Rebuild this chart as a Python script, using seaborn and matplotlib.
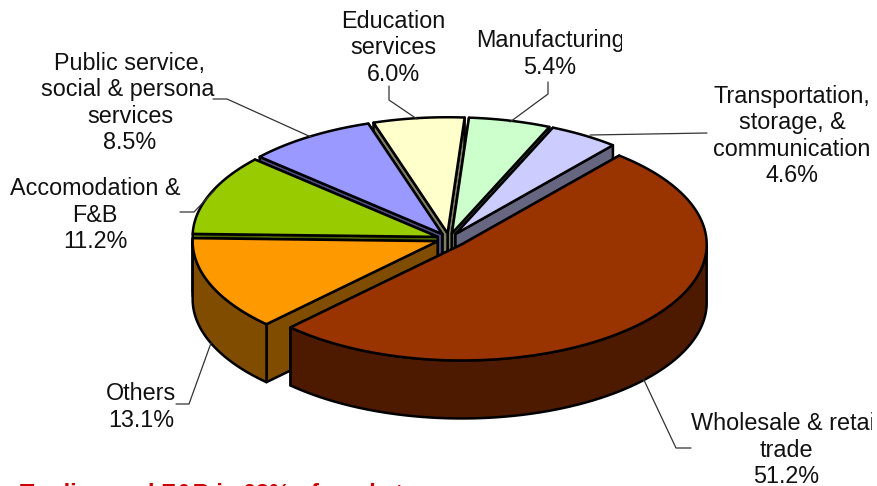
import numpy as np
import matplotlib
matplotlib.use("Agg")
import matplotlib.pyplot as plt
from matplotlib.patches import Rectangle
import seaborn as sns

# Sector shares in percent, clockwise from the top-right edge of the largest slice
sectors = ["Wholesale & retail\ntrade", "Others", "Accomodation &\nF&B",
           "Public service,\nsocial & personal\nservices", "Education\nservices",
           "Manufacturing", "Transportation,\nstorage, &\ncommunication"]
shares = [51.2, 13.1, 11.2, 8.5, 6.0, 5.4, 4.6]
top_colors = ["#993300", "#FF9900", "#99CC00", "#9999FF", "#FFFFCC", "#CCFFCC", "#CCCCFF"]
title_text = "Trading and F&B is 63% of market"

# Label anchor (centre x, centre y) and the right-hand limit of its text box
label_pos = [(786, 450), (141, 407), (95, 215), (130, 103), (393, 48), (550, 54), (792, 136)]
label_clip = [872, 178, 400, 216, 500, 622, 877]
leaders = [
    [(691, 448), (676, 448), (643, 378)],
    [(176, 404), (189, 404), (211, 343)],
    [(180, 212), (194, 212), (215, 190)],
    [(213, 99), (227, 99), (311, 137)],
    [(389, 86), (389, 100), (417, 119)],
    [(548, 82), (548, 94), (510, 122)],
    [(707, 133), (590, 135)],
]

# Pie geometry on a pixel-sized canvas
CX, CY, RX, RY, DEPTH = 449, 239, 245, 116, 58
START = 50.0
EXPLODE = [0.07, 0.05, 0.05, 0.05, 0.05, 0.05, 0.05]
DRAW_ORDER = [4, 5, 6, 3, 2, 1, 0]

sns.set_theme(style="white", rc={"axes.grid": False})
plt.rcParams["font.family"] = ["Liberation Sans", "DejaVu Sans"]
palette = sns.color_palette(top_colors)
side_colors = [tuple(c * 0.5 for c in col) for col in palette]

fig, ax = plt.subplots(figsize=(8.77, 4.86), dpi=100)
fig.subplots_adjust(0, 0, 1, 1)
ax.set_xlim(0, 877)
ax.set_ylim(486, 0)
ax.axis("off")

# Sweep of each slice in degrees, running clockwise
sweeps = np.array(shares) / sum(shares) * 360
ends = START - np.cumsum(sweeps)
starts = ends + sweeps


def arc(t0, t1, ox, oy):
    t = np.radians(np.linspace(t0, t1, 160))
    return ox + RX * np.cos(t), oy - RY * np.sin(t)


def outline(xs, ys, color, z):
    ax.fill(xs, ys, facecolor=color, edgecolor="black", linewidth=1.8,
            joinstyle="round", zorder=z)


for z, i in enumerate(DRAW_ORDER):
    t0, t1 = starts[i], ends[i]
    mid = np.radians((t0 + t1) / 2)
    ox = CX + EXPLODE[i] * RX * np.cos(mid)
    oy = CY - EXPLODE[i] * RY * np.sin(mid)
    ax_, ay_ = arc(t0, t1, ox, oy)

    # Radial walls, the one nearer the viewer painted last
    rim_ends = sorted([(ay_[0], ax_[0]), (ay_[-1], ax_[-1])])
    for ye, xe in rim_ends:
        outline([ox, xe, xe, ox], [oy, ye, ye + DEPTH, oy + DEPTH], side_colors[i], z * 3 + 1)

    # Curved wall, only where the rim faces the viewer
    front = np.sin(np.radians(np.linspace(t0, t1, 160))) < 0
    if front.any():
        fx, fy = ax_[front], ay_[front]
        outline(np.r_[fx, fx[::-1]], np.r_[fy, fy[::-1] + DEPTH], side_colors[i], z * 3 + 2)

    # Top face
    outline(np.r_[ox, ax_], np.r_[oy, ay_], palette[i], z * 3 + 3)

# Leader lines
for pts in leaders:
    px, py = zip(*pts)
    ax.plot(px, py, color="#333333", lw=0.9, zorder=40)

# Sector labels, each cut off at its own text box
for name, share, (lx, ly), clip in zip(sectors, shares, label_pos, label_clip):
    txt = ax.text(lx, ly, f"{name}\n{share:.1f}%", ha="center", va="center",
                  fontsize=16.8, color="#111111", linespacing=1.2, zorder=50,
                  clip_on=True)
    txt.set_clip_path(Rectangle((0, 0), clip, 486, transform=ax.transData))

ax.text(20, 483, title_text, ha="left", va="top", fontsize=17, fontweight="bold",
        color="#CC0000", zorder=50)

fig.savefig("out.png", dpi=100)
